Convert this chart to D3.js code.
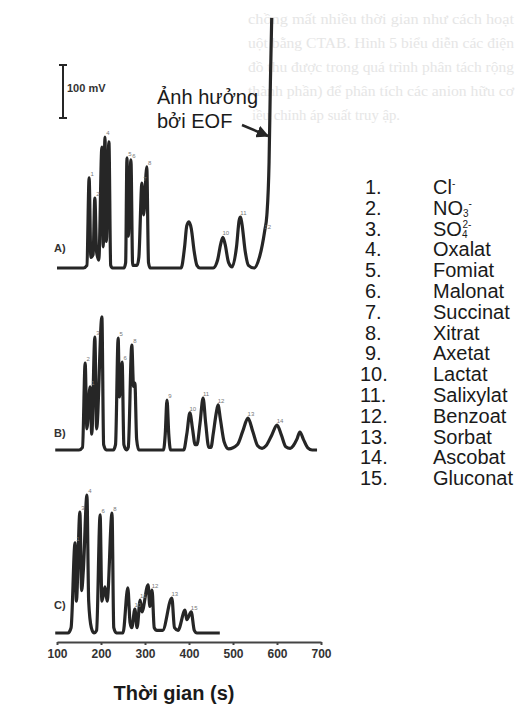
<!DOCTYPE html>
<html>
<head>
<meta charset="utf-8">
<script src="https://cdn.jsdelivr.net/npm/d3@7"></script>
<style>
  body { margin: 0; background: #fff; }
  svg { display: block; font-family: "Liberation Sans", Arial, sans-serif; }
</style>
</head>
<body>
<svg id="chart" width="521" height="715"></svg>
<script>
// time axis ticks (s)
var timeTicks = [100, 200, 300, 400, 500, 600, 700];

// traces: [time (s), signal (mV above baseline)]
var traceA = [[100,0],[160,0],[168,5],[173,170],[177,20],[182,25],[186,132],[190,30],[195,15],[202,228],[205,40],
  [209,247],[212,50],[218,238],[222,5],[226,0],[252,0],[256,10],[259,208],[262,60],[268,204],[272,5],[282,5],
  [286,20],[293,160],[297,100],[304,191],[308,10],[312,0],[382,0],[390,40],[395,80],[400,87],[405,75],[412,30],
  [418,5],[425,0],[455,0],[465,15],[472,45],[477,58],[482,45],[490,10],[498,2],[508,40],[514,90],[517,96],
  [520,85],[528,30],[535,5],[548,0],[560,20],[572,70],[577,100],[582,200],[585,350],[588,472]];

var traceB = [[96,0],[150,0],[158,5],[164,164],[168,40],[175,119],[179,30],[186,213],[190,40],[202,251],[206,10],
  [212,0],[228,0],[233,10],[239,211],[242,100],[248,166],[252,10],[258,0],[262,5],[270,198],[274,120],[277,126],
  [281,20],[286,0],[342,0],[346,30],[350,94],[354,30],[358,0],[388,0],[395,30],[402,70],[408,40],[414,10],
  [418,10],[425,50],[432,98],[438,50],[445,5],[450,5],[455,30],[462,70],[466,85],[471,60],[480,15],[490,2],
  [510,10],[522,35],[534,60],[545,35],[556,8],[566,3],[575,8],[588,28],[600,47],[610,28],[620,6],[630,3],
  [637,8],[645,20],[652,34],[660,20],[670,4],[680,0],[691,0]];

var traceC = [[96,0],[125,0],[132,10],[141,170],[144,60],[152,228],[156,80],[160,120],[168,260],[172,60],
  [178,10],[184,0],[190,5],[198,223],[202,60],[209,87],[214,60],[225,226],[229,10],[235,0],[250,0],[261,85],
  [266,20],[270,10],[277,45],[282,10],[289,62],[293,40],[307,91],[311,50],[316,81],[321,10],[327,5],[340,5],
  [361,66],[367,10],[375,5],[391,43],[395,25],[405,40],[412,5],[418,0],[470,0]];

// peak numbers: [time, mV, label]
var labelsA = [[173,170,"1"],[186,132,"2"],[209,247,"4"],[259,208,"5"],[268,204,"6"],[293,160,"7"],
  [304,191,"8"],[477,58,"10"],[517,96,"11"],[572,70,"12"]];
var labelsB = [[164,164,"2"],[186,213,"3"],[175,119,"1"],[239,211,"5"],[248,166,"6"],[270,198,"8"],
  [350,94,"9"],[402,70,"10"],[432,98,"11"],[466,85,"12"],[534,60,"13"],[600,47,"14"]];
var labelsC = [[141,170,"1"],[152,228,"3"],[168,260,"4"],[198,223,"6"],[225,226,"8"],
  [277,45,"10"],[289,62,"11"],[316,81,"12"],[361,66,"13"],[405,40,"15"]];

var panelNames = ["A)", "B)", "C)"];
var legendNames = ["Cl", "NO", "SO", "Oxalat", "Fomiat", "Malonat", "Succinat", "Xitrat", "Axetat",
  "Lactat", "Salixylat", "Benzoat", "Sorbat", "Ascobat", "Gluconat"];

var svg = d3.select("#chart");
var ink = "#262626";

// faint show-through text from the back of the page
var ghost = ["chồng mất nhiều thời gian như cách hoạt", "uột bằng CTAB. Hình 5 biểu diễn các điện",
  "đồ thu được trong quá trình phân tách rộng", "thành phần) để phân tích các anion hữu cơ",
  "iều chỉnh áp suất truy ập."];
svg.append("g").selectAll("text").data(ghost).enter().append("text")
  .attr("x", function(d, i) { return i == 4 ? 252 : 248; })
  .attr("y", function(d, i) { return 24 + i * 24; })
  .attr("textLength", function(d, i) { return i == 4 ? 148 : 266; })
  .attr("lengthAdjust", "spacingAndGlyphs")
  .style("font-family", "'Liberation Serif', serif")
  .style("font-size", "15px")
  .style("fill", "#e6e6e6")
  .text(function(d) { return d; });

var x = d3.scaleLinear().domain([100, 700]).range([57, 321]);

var panels = [
  {data: traceA, labels: labelsA, base: 268, name: panelNames[0], ly: 252},
  {data: traceB, labels: labelsB, base: 450, name: panelNames[1], ly: 437},
  {data: traceC, labels: labelsC, base: 633, name: panelNames[2], ly: 609}
];

panels.forEach(function(p) {
  var y = d3.scaleLinear().domain([0, 100]).range([p.base, p.base - 53]);
  var line = d3.line()
    .x(function(d) { return x(d[0]); })
    .y(function(d) { return y(d[1]); })
    .curve(d3.curveMonotoneX);

  svg.append("path")
    .datum(p.data)
    .attr("d", line)
    .attr("fill", "none")
    .attr("stroke", ink)
    .attr("stroke-width", 3.2)
    .attr("stroke-linejoin", "round");

  svg.append("g").selectAll("text")
    .data(p.labels)
    .enter().append("text")
      .attr("x", function(d) { return x(d[0]) + 3; })
      .attr("y", function(d) { return y(d[1]) - 2; })
      .attr("text-anchor", "middle")
      .style("font-size", "6px")
      .style("fill", "#777")
      .text(function(d) { return d[2]; });

  svg.append("text")
    .attr("x", 54)
    .attr("y", p.ly)
    .style("font-size", "11px")
    .style("font-weight", "bold")
    .style("fill", "#333")
    .text(p.name);
});

// scale bar 100 mV
var yBar = d3.scaleLinear().domain([0, 100]).range([118, 65]);
var bar = svg.append("g").attr("stroke", ink).attr("stroke-width", 2);
bar.append("line").attr("x1", 63).attr("x2", 63).attr("y1", yBar(0)).attr("y2", yBar(100));
bar.append("line").attr("x1", 59).attr("x2", 67).attr("y1", yBar(0)).attr("y2", yBar(0));
bar.append("line").attr("x1", 59).attr("x2", 67).attr("y1", yBar(100)).attr("y2", yBar(100));
svg.append("text").attr("x", 67).attr("y", 92)
  .style("font-size", "11px").style("font-weight", "bold").style("fill", "#333")
  .text("100 mV");

// EOF annotation
svg.append("text").attr("x", 157).attr("y", 104).style("font-size", "20px").style("fill", "#1a1a1a").text("Ảnh hưởng");
svg.append("text").attr("x", 157).attr("y", 128).style("font-size", "20px").style("fill", "#1a1a1a").text("bởi EOF");
svg.append("defs").append("marker")
  .attr("id", "arr").attr("viewBox", "0 0 10 10").attr("refX", 9).attr("refY", 5)
  .attr("markerWidth", 5).attr("markerHeight", 5).attr("orient", "auto")
  .append("path").attr("d", "M0,0L10,5L0,10z").attr("fill", ink);
svg.append("line").attr("x1", 242).attr("y1", 125).attr("x2", 268).attr("y2", 136)
  .attr("stroke", ink).attr("stroke-width", 2.5).attr("marker-end", "url(#arr)");

// time axis
var axis = svg.append("g")
  .attr("transform", "translate(0,642)")
  .call(d3.axisBottom(x).tickValues(timeTicks).tickSize(3).tickSizeOuter(0).tickPadding(4));
axis.select(".domain").attr("stroke", "#444").attr("stroke-width", 2);
axis.selectAll(".tick line").attr("stroke", "#444").attr("stroke-width", 2);
axis.selectAll(".tick text")
  .style("font-family", "'Liberation Sans', Arial, sans-serif")
  .style("font-size", "12px").style("font-weight", "bold").style("fill", "#333");

svg.append("text")
  .attr("x", 174).attr("y", 700)
  .attr("text-anchor", "middle")
  .style("font-size", "20px").style("font-weight", "bold").style("fill", "#1a1a1a")
  .text("Thời gian (s)");

// legend
var leg = svg.append("g").style("font-size", "20px").style("fill", "#1a1a1a");
legendNames.forEach(function(name, i) {
  var yy = 194 + i * 20.8;
  leg.append("text").attr("x", i < 9 ? 365 : 360).attr("y", yy).text((i + 1) + ".");
  var t = leg.append("text").attr("x", 433).attr("y", yy).text(name);
  if (i == 0) {
    t.append("tspan").attr("dy", -7).style("font-size", "10px").text("-");
  } else if (i == 1) {
    t.append("tspan").attr("dy", 2).style("font-size", "10px").text("3");
    t.append("tspan").attr("dy", -10).style("font-size", "10px").text("-");
  } else if (i == 2) {
    t.append("tspan").attr("dy", 2).style("font-size", "10px").text("4");
    t.append("tspan").attr("dx", -5).attr("dy", -10).style("font-size", "10px").text("2-");
  }
});
</script>
</body>
</html>
